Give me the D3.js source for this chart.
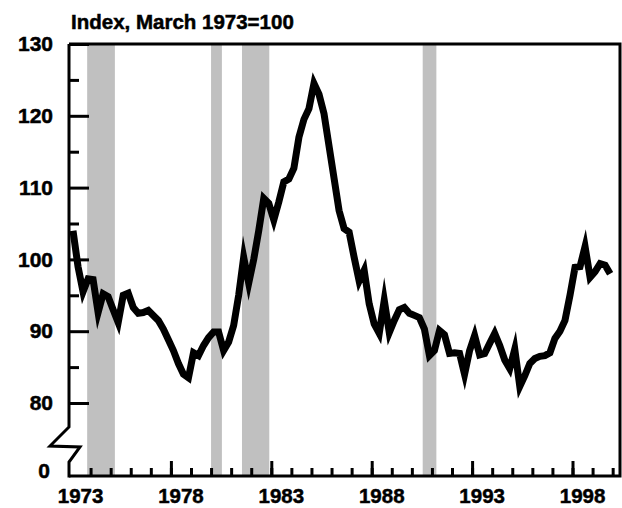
<!DOCTYPE html>
<html>
<head>
<meta charset="utf-8">
<script src="https://cdn.jsdelivr.net/npm/d3@7"></script>
<style>
  body { margin: 0; background: #fff; }
  text { font-family: "Liberation Sans", Arial, sans-serif; font-weight: bold; fill: #000; }
</style>
</head>
<body>
<div id="chart"></div>
<script>
// quarterly index, 1973Q1 .. 1999Q4
const startYear = 1973;
const indexValues = [
  104, 99, 95.5, 97.3, 97.2, 92.6, 95.2, 94.8, 93, 91.2,
  95, 95.3, 93.3, 92.5, 92.6, 92.9, 92.2, 91.5, 90.3, 88.8,
  87.3, 85.5, 84, 83.5, 87, 86.6, 88, 89.1, 89.9, 89.9,
  87.3, 88.5, 90.8, 95, 100.3, 96.7, 100, 104, 108.5, 107.8,
  105.5, 108, 110.8, 111.2, 112.7, 117, 119.5, 121, 124.5, 123,
  120.3, 115.8, 111.3, 106.8, 104.3, 103.8, 100.3, 97, 98.5, 93.8,
  91, 89.7, 94.3, 89.8, 91.5, 93, 93.3, 92.5, 92.2, 91.9,
  90.3, 86.6, 87.3, 90.1, 89.5, 86.9, 87, 86.9, 84, 87.3,
  89.4, 86.7, 86.9, 88.3, 89.7, 88, 86, 84.8, 87.5, 82.3,
  83.8, 85.5, 86.2, 86.5, 86.6, 87, 89, 90, 91.5, 95,
  98.9, 99, 101.8, 97.5, 98.3, 99.4, 99.2, 98
];
// recession periods (decimal years)
const recessions = [[1973.83, 1975.21], [1980.0, 1980.54], [1981.54, 1982.9], [1990.54, 1991.22]];
const yMajorTicks = [80, 90, 100, 110, 120, 130];
const yMinorTicks = [85, 95, 105, 115, 125];
const yearLabels = [1973, 1978, 1983, 1988, 1993, 1998];
const minorYears = d3.range(1974, 2001);
const majorYears = [1978, 1983, 1988, 1993, 1998];
const title = "Index, March 1973=100";

const W = 622, H = 508;
const X0 = 69, X1 = 620, YTOP = 44, YBOT = 476;

const svg = d3.select("#chart").append("svg")
  .attr("width", W).attr("height", H);

const x = d3.scaleLinear().domain([1973, 1998]).range([70.5, 572.5]);
const y = d3.scaleLinear().domain([80, 130]).range([403, YTOP]);

const data = indexValues.map((v, i) => ({ t: startYear + i / 4 + 0.125, v: v }));

// recession shading
svg.append("g").selectAll("rect")
  .data(recessions)
  .enter().append("rect")
  .attr("x", d => x(d[0]))
  .attr("width", d => x(d[1]) - x(d[0]))
  .attr("y", YTOP)
  .attr("height", YBOT - YTOP)
  .attr("fill", "#c0c0c0");

// the line
const line = d3.line().x(d => x(d.t)).y(d => y(d.v));
svg.append("path")
  .datum(data)
  .attr("d", line)
  .attr("fill", "none")
  .attr("stroke", "#000")
  .attr("stroke-width", 7)
  .attr("stroke-linejoin", "miter")
  .attr("stroke-miterlimit", 10);

// frame: top, right, bottom
svg.append("path")
  .attr("d", `M${X0},${YTOP}H${X1}V${YBOT}H${X0}`)
  .attr("fill", "none").attr("stroke", "#000").attr("stroke-width", 3);

// left axis with break
const yb = y(80) + 24;
svg.append("path")
  .attr("d", `M${X0},${YTOP}V${yb}L${X0 - 19},${yb + 19}L${X0 + 11},${yb + 20}L${X0},${yb + 35}V${YBOT + 1.5}`)
  .attr("fill", "none").attr("stroke", "#000").attr("stroke-width", 3)
  .attr("stroke-linejoin", "miter");

// y ticks
const yAxis = d3.axisLeft(y).tickValues(yMajorTicks).tickSizeInner(-20).tickSizeOuter(0).tickPadding(16);
const gy = svg.append("g").attr("transform", `translate(${X0},0)`).call(yAxis);
gy.select(".domain").remove();
gy.selectAll(".tick line").attr("stroke-width", 3);
gy.selectAll(".tick text").attr("font-size", 21).attr("font-family", null)
  .attr("stroke", "#000").attr("stroke-width", 0.5);

const yMinor = d3.axisLeft(y).tickValues(yMinorTicks).tickSizeInner(-10).tickSizeOuter(0).tickFormat("");
const gym = svg.append("g").attr("transform", `translate(${X0},0)`).call(yMinor);
gym.select(".domain").remove();
gym.selectAll(".tick line").attr("stroke-width", 3);

// zero label on the broken axis
svg.append("text")
  .attr("x", X0 - 19).attr("y", YBOT - 5).attr("dy", "0.35em")
  .attr("text-anchor", "end").attr("font-size", 21)
  .attr("stroke", "#000").attr("stroke-width", 0.5)
  .text("0");

// x ticks
const xMinor = d3.axisBottom(x).tickValues(minorYears).tickSizeInner(-8).tickSizeOuter(0).tickFormat("");
const gxm = svg.append("g").attr("transform", `translate(0,${YBOT})`).call(xMinor);
gxm.select(".domain").remove();
gxm.selectAll(".tick line").attr("stroke-width", 3);

const xMajor = d3.axisBottom(x).tickValues(majorYears).tickSizeInner(-15).tickSizeOuter(0).tickFormat("");
const gxM = svg.append("g").attr("transform", `translate(0,${YBOT})`).call(xMajor);
gxM.select(".domain").remove();
gxM.selectAll(".tick line").attr("stroke-width", 3);

// year labels, centred mid-year
svg.append("g").selectAll("text")
  .data(yearLabels)
  .enter().append("text")
  .attr("x", d => x(d + 0.5))
  .attr("y", 503)
  .attr("text-anchor", "middle")
  .attr("font-size", 20.5)
  .attr("stroke", "#000").attr("stroke-width", 0.5)
  .text(d => d);

// title
svg.append("text")
  .attr("x", 71).attr("y", 29)
  .attr("font-size", 20.5)
  .attr("stroke", "#000").attr("stroke-width", 0.5)
  .text(title);
</script>
</body>
</html>
